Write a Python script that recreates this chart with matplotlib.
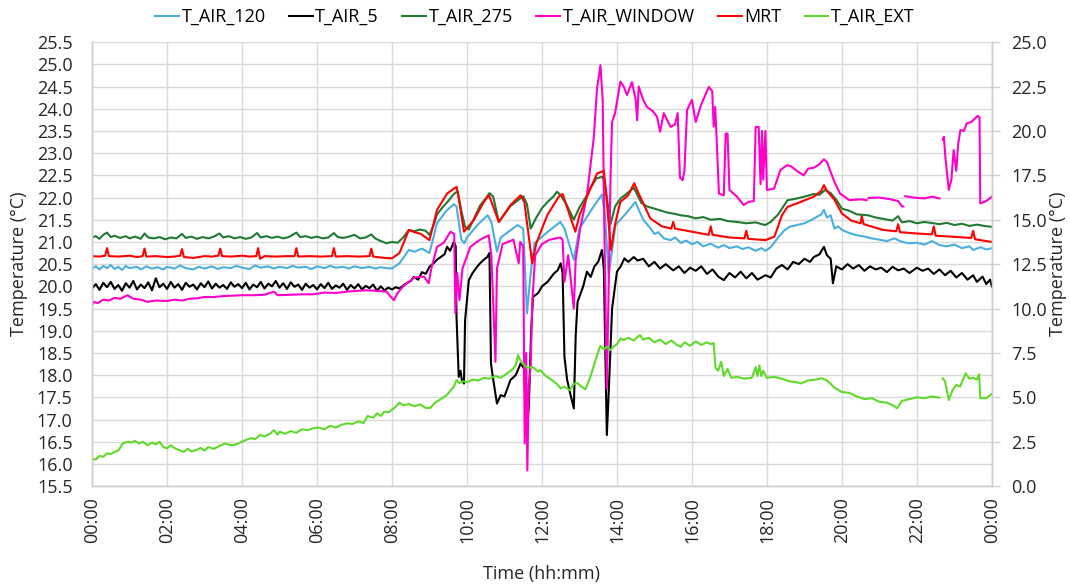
import numpy as np
import matplotlib.pyplot as plt
from matplotlib.ticker import MultipleLocator, FormatStrFormatter

plt.rcParams['font.family'] = ['Open Sans', 'DejaVu Sans']

nan = np.nan

# (hour of day, °C) for each sensor
t_air_120 = [(0.0, 20.40), (0.1, 20.45), (0.2, 20.38), (0.3, 20.46), (0.4, 20.41), (0.5, 20.48), (0.6, 20.39),
             (0.7, 20.44), (0.8, 20.37), (0.9, 20.46), (1.0, 20.41), (1.2, 20.44), (1.3, 20.38), (1.45, 20.45),
             (1.6, 20.40), (1.75, 20.43), (1.9, 20.38), (2.0, 20.44), (2.2, 20.40), (2.35, 20.47), (2.5, 20.41),
             (2.7, 20.38), (2.85, 20.44), (3.0, 20.40), (3.2, 20.45), (3.35, 20.39), (3.5, 20.43), (3.7, 20.41),
             (3.85, 20.46), (4.0, 20.42), (4.2, 20.39), (4.35, 20.47), (4.5, 20.42), (4.7, 20.45), (4.85, 20.40),
             (5.0, 20.44), (5.2, 20.41), (5.35, 20.46), (5.5, 20.42), (5.7, 20.44), (5.85, 20.39), (6.0, 20.45),
             (6.2, 20.41), (6.35, 20.46), (6.5, 20.42), (6.7, 20.44), (6.85, 20.40), (7.0, 20.45), (7.2, 20.41),
             (7.4, 20.44), (7.55, 20.40), (7.7, 20.43), (7.85, 20.41), (8.0, 20.40), (8.2, 20.52), (8.45, 20.82),
             (8.6, 20.78), (8.8, 20.85), (9.0, 20.75), (9.2, 21.42), (9.45, 21.70), (9.65, 21.85), (9.72, 21.80),
             (9.85, 21.05), (9.93, 20.97), (10.0, 21.10), (10.3, 21.40), (10.55, 21.60), (10.65, 21.45),
             (10.8, 20.78), (10.9, 21.10), (11.35, 21.38), (11.5, 21.30), (11.6, 19.39), (11.7, 20.30),
             (11.8, 20.97), (12.1, 21.19), (12.49, 21.45), (12.6, 21.30), (12.85, 20.60), (13.0, 21.30),
             (13.38, 21.80), (13.6, 22.07), (13.68, 21.60), (13.78, 20.25), (13.96, 21.38), (14.25, 21.65),
             (14.49, 21.90), (14.7, 21.50), (14.9, 21.30), (15.0, 21.18), (15.1, 21.22), (15.25, 21.08),
             (15.43, 21.04), (15.55, 21.10), (15.7, 20.98), (15.85, 21.03), (16.0, 20.95), (16.15, 21.00),
             (16.3, 20.90), (16.5, 20.96), (16.7, 20.87), (16.85, 20.93), (17.0, 20.86), (17.2, 20.90),
             (17.35, 20.84), (17.5, 20.88), (17.7, 20.80), (17.85, 20.86), (17.96, 20.80), (18.1, 20.88),
             (18.3, 21.10), (18.45, 21.25), (18.6, 21.34), (18.8, 21.38), (19.0, 21.42), (19.15, 21.48),
             (19.3, 21.55), (19.45, 21.62), (19.52, 21.72), (19.6, 21.55), (19.7, 21.60), (19.8, 21.30),
             (19.9, 21.35), (20.0, 21.27), (20.2, 21.20), (20.4, 21.15), (20.6, 21.12), (20.8, 21.08),
             (21.0, 21.05), (21.2, 21.02), (21.4, 21.08), (21.6, 21.00), (21.8, 20.97), (22.0, 20.98),
             (22.2, 20.94), (22.4, 21.02), (22.6, 20.93), (22.8, 20.90), (23.0, 20.94), (23.2, 20.86),
             (23.4, 20.90), (23.5, 20.82), (23.7, 20.88), (23.85, 20.83), (24.0, 20.86)]

t_air_5 = [(0.0, 19.95), (0.1, 20.05), (0.2, 19.92), (0.3, 20.08), (0.4, 19.98), (0.5, 20.10), (0.6, 19.94),
           (0.7, 20.03), (0.8, 19.90), (0.9, 20.07), (1.0, 19.97), (1.1, 20.12), (1.2, 19.93), (1.3, 20.04),
           (1.4, 19.96), (1.5, 20.09), (1.6, 19.91), (1.7, 20.18), (1.8, 19.98), (1.9, 20.06), (2.0, 19.94),
           (2.1, 20.10), (2.2, 19.97), (2.3, 20.05), (2.4, 19.92), (2.5, 20.08), (2.6, 19.99), (2.7, 20.04),
           (2.8, 19.93), (2.9, 20.07), (3.0, 19.98), (3.1, 20.11), (3.2, 19.95), (3.3, 20.06), (3.4, 19.97),
           (3.5, 20.03), (3.6, 19.94), (3.7, 20.09), (3.8, 19.99), (3.9, 20.05), (4.0, 19.96), (4.1, 20.08),
           (4.2, 19.93), (4.3, 20.04), (4.4, 19.98), (4.5, 20.10), (4.6, 19.95), (4.7, 20.06), (4.8, 20.00),
           (4.9, 20.12), (5.0, 19.97), (5.1, 20.07), (5.2, 19.94), (5.3, 20.09), (5.4, 19.99), (5.5, 20.04),
           (5.6, 19.92), (5.7, 20.06), (5.8, 19.97), (5.9, 20.03), (6.0, 19.93), (6.1, 20.05), (6.2, 19.96),
           (6.3, 20.08), (6.4, 19.94), (6.5, 20.02), (6.6, 19.97), (6.7, 20.06), (6.8, 19.92), (6.9, 20.03),
           (7.0, 19.95), (7.1, 20.05), (7.2, 19.93), (7.3, 20.01), (7.4, 19.96), (7.5, 20.04), (7.6, 19.90),
           (7.7, 20.00), (7.8, 19.91), (7.9, 19.97), (8.0, 19.93), (8.1, 19.98), (8.2, 19.95), (8.35, 20.05),
           (8.5, 20.12), (8.58, 20.21), (8.7, 20.15), (8.8, 20.32), (8.9, 20.28), (9.0, 20.44), (9.11, 20.52),
           (9.2, 20.60), (9.3, 20.66), (9.4, 20.72), (9.47, 20.89), (9.55, 20.80), (9.65, 21.00), (9.7, 20.90),
           (9.72, 19.35), (9.78, 17.96), (9.83, 18.10), (9.86, 17.90), (9.92, 17.81), (9.95, 19.24),
           (10.05, 20.14), (10.15, 20.30), (10.27, 20.44), (10.35, 20.52), (10.45, 20.60), (10.54, 20.66),
           (10.6, 20.75), (10.64, 18.26), (10.7, 17.90), (10.8, 17.36), (10.9, 17.55), (11.0, 17.52),
           (11.16, 17.89), (11.3, 18.00), (11.43, 18.26), (11.52, 18.15), (11.59, 16.76), (11.65, 17.30),
           (11.71, 18.94), (11.76, 19.76), (11.9, 19.85), (12.0, 20.00), (12.15, 20.10), (12.32, 20.29),
           (12.42, 20.36), (12.5, 20.52), (12.55, 20.30), (12.6, 18.41), (12.67, 17.90), (12.75, 17.60),
           (12.85, 17.25), (12.9, 18.90), (12.95, 19.65), (13.1, 20.00), (13.2, 20.33), (13.3, 20.21),
           (13.4, 20.45), (13.5, 20.55), (13.6, 20.82), (13.65, 20.40), (13.73, 16.65), (13.78, 17.60),
           (13.87, 19.50), (14.0, 20.33), (14.1, 20.45), (14.2, 20.63), (14.3, 20.55), (14.45, 20.66),
           (14.55, 20.58), (14.7, 20.62), (14.85, 20.45), (15.0, 20.55), (15.15, 20.40), (15.3, 20.50),
           (15.5, 20.36), (15.65, 20.45), (15.8, 20.30), (15.95, 20.42), (16.1, 20.35), (16.25, 20.45),
           (16.4, 20.28), (16.55, 20.38), (16.7, 20.22), (16.85, 20.14), (17.0, 20.30), (17.15, 20.20),
           (17.3, 20.33), (17.45, 20.18), (17.6, 20.30), (17.75, 20.15), (17.96, 20.25), (18.1, 20.20),
           (18.25, 20.40), (18.4, 20.48), (18.55, 20.38), (18.7, 20.55), (18.85, 20.50), (19.0, 20.62),
           (19.15, 20.55), (19.25, 20.66), (19.4, 20.72), (19.52, 20.89), (19.6, 20.70), (19.7, 20.62),
           (19.76, 20.07), (19.85, 20.45), (20.0, 20.38), (20.15, 20.50), (20.3, 20.40), (20.45, 20.48),
           (20.6, 20.35), (20.75, 20.45), (20.9, 20.38), (21.05, 20.42), (21.2, 20.32), (21.35, 20.44),
           (21.5, 20.36), (21.65, 20.40), (21.8, 20.30), (22.0, 20.42), (22.15, 20.35), (22.3, 20.40),
           (22.45, 20.28), (22.6, 20.38), (22.75, 20.25), (22.9, 20.35), (23.05, 20.20), (23.2, 20.30),
           (23.35, 20.15), (23.5, 20.25), (23.6, 20.10), (23.75, 20.22), (23.85, 20.05), (23.95, 20.15),
           (24.0, 20.00)]

t_air_275 = [(0.0, 21.10), (0.1, 21.13), (0.2, 21.07), (0.3, 21.16), (0.4, 21.21), (0.5, 21.11), (0.6, 21.14),
             (0.75, 21.09), (0.9, 21.13), (1.0, 21.08), (1.15, 21.12), (1.3, 21.07), (1.4, 21.19), (1.5, 21.10),
             (1.65, 21.08), (1.8, 21.11), (1.95, 21.06), (2.1, 21.10), (2.25, 21.08), (2.4, 21.18), (2.5, 21.09),
             (2.65, 21.12), (2.8, 21.07), (2.95, 21.11), (3.1, 21.08), (3.25, 21.12), (3.4, 21.19), (3.5, 21.10),
             (3.65, 21.13), (3.8, 21.08), (3.95, 21.11), (4.1, 21.07), (4.25, 21.10), (4.4, 21.20), (4.5, 21.10),
             (4.65, 21.13), (4.8, 21.09), (4.95, 21.12), (5.1, 21.08), (5.25, 21.11), (5.45, 21.21), (5.55, 21.11),
             (5.7, 21.13), (5.85, 21.09), (6.0, 21.12), (6.15, 21.08), (6.3, 21.10), (6.45, 21.20), (6.55, 21.11),
             (6.7, 21.09), (6.85, 21.12), (7.0, 21.16), (7.15, 21.08), (7.3, 21.10), (7.45, 21.17), (7.55, 21.08),
             (7.7, 21.02), (7.85, 20.97), (8.0, 21.00), (8.15, 20.98), (8.3, 21.10), (8.45, 21.27), (8.6, 21.24),
             (8.75, 21.28), (8.9, 21.25), (9.0, 21.16), (9.1, 21.35), (9.2, 21.62), (9.35, 21.78), (9.5, 21.92),
             (9.65, 22.08), (9.75, 22.14), (9.85, 21.70), (9.95, 21.34), (10.05, 21.28), (10.2, 21.55),
             (10.35, 21.82), (10.5, 21.98), (10.6, 22.10), (10.7, 22.02), (10.85, 21.45), (11.0, 21.62),
             (11.15, 21.80), (11.3, 21.90), (11.5, 22.03), (11.6, 21.85), (11.7, 21.30), (11.85, 21.55),
             (12.0, 21.76), (12.15, 21.90), (12.3, 22.02), (12.4, 22.13), (12.5, 22.05), (12.65, 21.85),
             (12.85, 21.50), (13.0, 21.78), (13.15, 21.98), (13.3, 22.22), (13.45, 22.43), (13.62, 22.47),
             (13.7, 22.20), (13.83, 21.40), (13.95, 21.80), (14.1, 21.98), (14.25, 22.08), (14.45, 22.22),
             (14.55, 22.05), (14.65, 21.88), (14.8, 21.80), (15.0, 21.75), (15.2, 21.70), (15.35, 21.66),
             (15.5, 21.64), (15.7, 21.60), (15.9, 21.58), (16.1, 21.53), (16.3, 21.56), (16.5, 21.50),
             (16.75, 21.52), (16.95, 21.47), (17.2, 21.45), (17.45, 21.42), (17.7, 21.44), (17.95, 21.38),
             (18.1, 21.45), (18.3, 21.62), (18.55, 21.94), (18.75, 21.97), (19.0, 22.02), (19.25, 22.08),
             (19.4, 22.06), (19.55, 22.17), (19.7, 22.10), (19.85, 21.95), (20.0, 21.75), (20.2, 21.70),
             (20.4, 21.62), (20.7, 21.60), (20.9, 21.55), (21.1, 21.52), (21.35, 21.48), (21.5, 21.58),
             (21.6, 21.44), (21.8, 21.47), (22.0, 21.42), (22.2, 21.45), (22.45, 21.42), (22.6, 21.40),
             (22.8, 21.43), (23.0, 21.38), (23.2, 21.41), (23.4, 21.36), (23.6, 21.39), (23.8, 21.36),
             (24.0, 21.34)]

t_air_window = [(0.0, 19.58), (0.05, 19.65), (0.15, 19.62), (0.3, 19.70), (0.45, 19.68), (0.6, 19.74),
                (0.75, 19.72), (0.95, 19.80), (1.1, 19.72), (1.3, 19.70), (1.48, 19.65), (1.7, 19.68),
                (2.0, 19.67), (2.2, 19.70), (2.4, 19.68), (2.6, 19.72), (2.8, 19.73), (3.0, 19.76),
                (3.25, 19.76), (3.5, 19.78), (3.75, 19.79), (4.0, 19.80), (4.3, 19.80), (4.6, 19.81),
                (4.85, 19.88), (4.95, 19.80), (5.3, 19.81), (5.6, 19.82), (5.9, 19.82), (6.2, 19.86),
                (6.5, 19.85), (6.8, 19.88), (7.1, 19.90), (7.33, 19.91), (7.6, 19.90), (7.86, 19.88),
                (7.95, 19.78), (8.05, 19.69), (8.15, 19.85), (8.3, 20.00), (8.45, 20.10), (8.6, 20.20),
                (8.85, 20.22), (8.98, 20.07), (9.05, 20.40), (9.2, 20.89), (9.38, 20.98), (9.56, 21.23),
                (9.66, 21.18), (9.69, 19.39), (9.74, 20.30), (9.8, 19.69), (9.88, 20.40), (10.09, 20.89),
                (10.35, 21.05), (10.58, 21.15), (10.65, 20.70), (10.76, 18.30), (10.8, 20.40), (10.95, 20.95),
                (11.24, 21.05), (11.38, 20.52), (11.42, 21.00), (11.5, 20.90), (11.54, 16.46), (11.58, 18.50),
                (11.61, 15.85), (11.65, 17.80), (11.7, 18.20), (11.74, 19.61), (11.82, 20.70), (12.0, 20.95),
                (12.2, 21.05), (12.49, 21.10), (12.55, 21.05), (12.6, 20.10), (12.7, 20.70), (12.85, 19.50),
                (12.9, 20.60), (13.02, 21.30), (13.2, 22.05), (13.38, 23.33), (13.47, 24.46), (13.56, 24.98),
                (13.62, 24.20), (13.66, 21.50), (13.69, 19.95), (13.73, 17.70), (13.78, 20.00), (13.83, 22.50),
                (13.87, 23.70), (13.95, 23.90), (14.09, 24.61), (14.18, 24.50), (14.27, 24.31), (14.4, 24.60),
                (14.5, 24.20), (14.54, 23.74), (14.58, 24.50), (14.7, 24.20), (14.8, 24.04), (14.95, 23.95),
                (15.07, 23.82), (15.15, 23.48), (15.25, 23.90), (15.43, 23.59), (15.55, 23.65), (15.62, 23.90),
                (15.68, 22.45), (15.75, 22.39), (15.8, 22.60), (15.87, 23.97), (16.0, 24.20), (16.1, 23.70),
                (16.25, 24.10), (16.45, 24.49), (16.54, 24.40), (16.58, 23.60), (16.62, 24.04), (16.66, 23.29),
                (16.72, 22.09), (16.85, 22.05), (16.9, 23.44), (16.95, 23.44), (17.0, 22.17), (17.2, 22.02),
                (17.38, 21.83), (17.5, 21.90), (17.65, 21.92), (17.7, 23.59), (17.78, 23.59), (17.83, 22.30),
                (17.87, 23.50), (17.9, 22.40), (17.96, 23.50), (18.0, 22.17), (18.19, 22.20), (18.36, 22.62),
                (18.54, 22.73), (18.65, 22.70), (18.8, 22.60), (18.98, 22.50), (19.1, 22.65), (19.25, 22.67),
                (19.4, 22.75), (19.52, 22.86), (19.6, 22.80), (19.8, 22.35), (19.95, 22.09), (20.2, 21.94),
                (20.5, 21.96), (20.66, 21.94), (20.69, nan), (20.71, 21.99), (21.0, 22.00), (21.3, 21.96),
                (21.5, 21.92), (21.6, 21.80), (21.64, 21.80), (21.67, nan), (21.69, 22.03), (21.9, 22.00),
                (22.2, 21.98), (22.4, 22.02), (22.6, 21.98), (22.64, nan), (22.69, 23.30), (22.72, 23.37),
                (22.76, 22.90), (22.85, 22.17), (22.92, 22.40), (22.98, 23.07), (23.05, 22.60), (23.1, 23.20),
                (23.16, 23.52), (23.25, 23.50), (23.33, 23.67), (23.45, 23.70), (23.55, 23.78), (23.62, 23.84),
                (23.67, 23.80), (23.69, 21.87), (23.85, 21.92), (24.0, 22.02)]

mrt = [(0.0, 20.68), (0.2, 20.67), (0.35, 20.69), (0.4, 20.86), (0.45, 20.68), (0.7, 20.67), (1.0, 20.69),
       (1.2, 20.66), (1.35, 20.68), (1.4, 20.85), (1.45, 20.67), (1.7, 20.68), (2.0, 20.66), (2.2, 20.67),
       (2.35, 20.69), (2.4, 20.84), (2.45, 20.66), (2.7, 20.64), (3.0, 20.68), (3.2, 20.67), (3.37, 20.69),
       (3.42, 20.85), (3.47, 20.68), (3.7, 20.67), (4.0, 20.69), (4.2, 20.67), (4.38, 20.68), (4.43, 20.86),
       (4.48, 20.62), (4.6, 20.68), (4.9, 20.67), (5.2, 20.68), (5.4, 20.68), (5.45, 20.86), (5.5, 20.67),
       (5.8, 20.68), (6.1, 20.67), (6.4, 20.68), (6.45, 20.86), (6.5, 20.67), (6.8, 20.68), (7.1, 20.67),
       (7.4, 20.68), (7.45, 20.85), (7.5, 20.67), (7.8, 20.64), (8.0, 20.63), (8.2, 20.75), (8.45, 21.27),
       (8.6, 21.22), (8.77, 21.18), (9.0, 21.04), (9.2, 21.72), (9.47, 22.09), (9.72, 22.24), (9.76, 22.10),
       (9.92, 21.23), (10.18, 21.49), (10.45, 21.90), (10.58, 22.05), (10.62, 21.98), (10.85, 21.45),
       (11.16, 21.83), (11.43, 22.05), (11.53, 21.90), (11.74, 20.52), (11.85, 20.97), (12.14, 21.60),
       (12.45, 22.02), (12.55, 22.08), (12.89, 21.23), (13.0, 21.60), (13.29, 22.20), (13.47, 22.54),
       (13.65, 22.60), (13.7, 22.20), (13.78, 21.40), (13.84, 20.82), (13.95, 21.40), (14.09, 21.90),
       (14.3, 22.05), (14.46, 22.32), (14.6, 22.05), (14.89, 21.53), (15.2, 21.35), (15.45, 21.30),
       (15.5, 21.45), (15.55, 21.30), (16.0, 21.23), (16.45, 21.16), (16.5, 21.35), (16.55, 21.16),
       (17.0, 21.10), (17.4, 21.08), (17.45, 21.25), (17.5, 21.07), (17.96, 21.04), (18.2, 21.12),
       (18.4, 21.60), (18.55, 21.79), (18.9, 21.90), (19.25, 22.02), (19.45, 22.15), (19.52, 22.28),
       (19.6, 22.15), (19.8, 21.95), (20.0, 21.64), (20.25, 21.48), (20.5, 21.42), (20.53, 21.58),
       (20.58, 21.40), (21.1, 21.27), (21.45, 21.24), (21.5, 21.40), (21.55, 21.22), (22.0, 21.19),
       (22.4, 21.17), (22.45, 21.35), (22.5, 21.14), (22.9, 21.12), (23.45, 21.09), (23.5, 21.25),
       (23.55, 21.06), (24.0, 21.00)]

# outdoor air, plotted on the secondary axis
t_air_ext = [(0.0, 1.55), (0.1, 1.50), (0.2, 1.70), (0.3, 1.65), (0.4, 1.85), (0.5, 1.80), (0.6, 1.93),
             (0.7, 2.00), (0.82, 2.40), (0.95, 2.50), (1.05, 2.45), (1.15, 2.55), (1.25, 2.40), (1.35, 2.50),
             (1.48, 2.30), (1.6, 2.45), (1.7, 2.35), (1.8, 2.50), (1.9, 2.20), (2.0, 2.13), (2.1, 2.30),
             (2.2, 2.15), (2.3, 2.05), (2.45, 1.93), (2.55, 2.10), (2.65, 1.95), (2.8, 2.05), (2.9, 2.15),
             (3.0, 2.00), (3.1, 2.20), (3.25, 2.10), (3.43, 2.30), (3.55, 2.40), (3.7, 2.30), (3.85, 2.35),
             (4.0, 2.50), (4.1, 2.60), (4.25, 2.70), (4.35, 2.65), (4.48, 2.88), (4.6, 2.80), (4.75, 2.95),
             (4.85, 3.15), (4.95, 2.90), (5.0, 3.07), (5.15, 2.95), (5.3, 3.10), (5.45, 3.00), (5.6, 3.20),
             (5.75, 3.15), (5.9, 3.26), (6.05, 3.30), (6.2, 3.20), (6.35, 3.40), (6.5, 3.30), (6.65, 3.45),
             (6.8, 3.54), (6.95, 3.50), (7.1, 3.65), (7.24, 3.55), (7.35, 3.95), (7.5, 3.85), (7.6, 4.10),
             (7.7, 3.95), (7.8, 4.20), (7.9, 4.15), (8.0, 4.30), (8.1, 4.47), (8.2, 4.70), (8.3, 4.55),
             (8.45, 4.62), (8.6, 4.50), (8.75, 4.60), (8.9, 4.40), (9.02, 4.40), (9.15, 4.70), (9.3, 4.90),
             (9.45, 5.10), (9.55, 5.35), (9.65, 5.60), (9.72, 5.97), (9.8, 5.80), (9.9, 5.90), (10.0, 5.85),
             (10.15, 6.00), (10.3, 5.95), (10.45, 6.10), (10.6, 6.05), (10.75, 6.20), (10.9, 6.10),
             (11.07, 6.35), (11.2, 6.55), (11.3, 6.80), (11.36, 7.38), (11.42, 7.10), (11.5, 6.90),
             (11.6, 6.66), (11.75, 6.70), (11.9, 6.45), (11.96, 6.53), (12.1, 6.20), (12.25, 6.00),
             (12.4, 5.75), (12.5, 5.50), (12.6, 5.60), (12.67, 5.50), (12.75, 5.40), (12.84, 5.75),
             (12.95, 5.80), (13.05, 5.60), (13.16, 5.45), (13.3, 6.20), (13.47, 7.38), (13.56, 7.90),
             (13.65, 7.70), (13.73, 7.85), (13.82, 7.65), (13.9, 7.84), (14.0, 8.00), (14.1, 8.32),
             (14.18, 8.22), (14.3, 8.35), (14.45, 8.20), (14.55, 8.40), (14.62, 8.50), (14.7, 8.25),
             (14.85, 8.35), (15.0, 8.10), (15.15, 8.25), (15.3, 8.00), (15.45, 8.20), (15.6, 7.95),
             (15.7, 7.84), (15.8, 8.10), (15.95, 7.90), (16.1, 8.15), (16.25, 7.95), (16.4, 8.10),
             (16.5, 8.00), (16.58, 8.05), (16.63, 6.66), (16.7, 6.50), (16.78, 7.00), (16.85, 6.20),
             (16.95, 6.60), (17.05, 6.10), (17.2, 6.15), (17.4, 6.05), (17.6, 6.10), (17.7, 6.70),
             (17.75, 6.20), (17.8, 6.80), (17.85, 6.20), (17.9, 6.50), (18.0, 6.10), (18.2, 6.15),
             (18.4, 6.05), (18.6, 5.90), (18.8, 5.85), (18.9, 5.78), (19.1, 5.95), (19.3, 6.00),
             (19.47, 6.07), (19.6, 5.95), (19.8, 5.55), (20.0, 5.30), (20.2, 5.25), (20.4, 5.05),
             (20.6, 4.90), (20.8, 4.95), (21.0, 4.75), (21.2, 4.70), (21.4, 4.50), (21.47, 4.38),
             (21.6, 4.80), (21.8, 4.90), (22.0, 5.00), (22.2, 4.95), (22.4, 5.05), (22.6, 4.98),
             (22.64, nan), (22.69, 6.07), (22.75, 5.90), (22.85, 4.85), (22.95, 5.40), (23.05, 5.70),
             (23.15, 5.60), (23.3, 6.35), (23.4, 6.05), (23.5, 6.10), (23.6, 6.00), (23.66, 6.30),
             (23.69, 4.95), (23.85, 4.95), (24.0, 5.20)]

hour_ticks = list(range(0, 25, 2))
hour_labels = ['00:00', '02:00', '04:00', '06:00', '08:00', '10:00', '12:00',
               '14:00', '16:00', '18:00', '20:00', '22:00', '00:00']

grid_col = '#d9d9d9'
txt_col = '#262626'
fs = 13

fig = plt.figure(figsize=(10.7, 5.85), dpi=100)
ax = fig.add_axes([0.086, 0.169, 0.841, 0.759])
ax2 = ax.twinx()

series = [(t_air_120, 'T_AIR_120', '#4aaedf'),
          (t_air_5, 'T_AIR_5', '#000000'),
          (t_air_275, 'T_AIR_275', '#1f7a32'),
          (t_air_window, 'T_AIR_WINDOW', '#ff00cc'),
          (mrt, 'MRT', '#ff0000')]
lines = []
for data, name, col in series:
    d = np.array(data)
    ln, = ax.plot(d[:, 0], d[:, 1], color=col, lw=1.5, label=name)
    lines.append(ln)

d = np.array(t_air_ext)
ln, = ax2.plot(d[:, 0], d[:, 1], color='#5fd92a', lw=1.5, label='T_AIR_EXT')
lines.append(ln)

ax.set_xlim(0, 24)
ax.set_ylim(15.5, 25.5)
ax2.set_ylim(0, 25)

ax.set_xticks(hour_ticks)
ax.set_xticklabels(hour_labels, rotation=90)
ax.yaxis.set_major_locator(MultipleLocator(0.5))
ax.yaxis.set_major_formatter(FormatStrFormatter('%.1f'))
ax2.yaxis.set_major_locator(MultipleLocator(2.5))
ax2.yaxis.set_major_formatter(FormatStrFormatter('%.1f'))

ax.grid(True, color=grid_col, lw=1)
ax.set_axisbelow(True)
for a in (ax, ax2):
    for s in a.spines.values():
        s.set_color('#cfcfcf')
        s.set_linewidth(1)
ax.spines['top'].set_visible(False)
ax2.spines['top'].set_visible(False)

ax.tick_params(axis='y', length=0, pad=14, labelsize=fs, colors=txt_col)
ax.tick_params(axis='x', length=0, pad=8, labelsize=fs, colors=txt_col)
ax2.tick_params(axis='y', length=6, width=1, color='#cfcfcf', pad=8, labelsize=fs, labelcolor=txt_col)

ax.set_ylabel('Temperature (°C)', fontsize=fs, color=txt_col, labelpad=6)
ax.set_xlabel('Time (hh:mm)', fontsize=fs, color=txt_col, labelpad=16)

# right-hand label sits close to the figure edge
ax2.set_ylabel('Temperature (°C)', fontsize=fs, color=txt_col, rotation=90,
               va='center', ha='center')
ax2.yaxis.set_label_coords(1.073, 0.5)

fig.legend(handles=lines, loc='center', bbox_to_anchor=(0.5, 0.971), ncol=6, frameon=False,
           fontsize=fs, handlelength=1.3, handletextpad=0.15, columnspacing=1.3)

fig.savefig('out.png', dpi=100)
